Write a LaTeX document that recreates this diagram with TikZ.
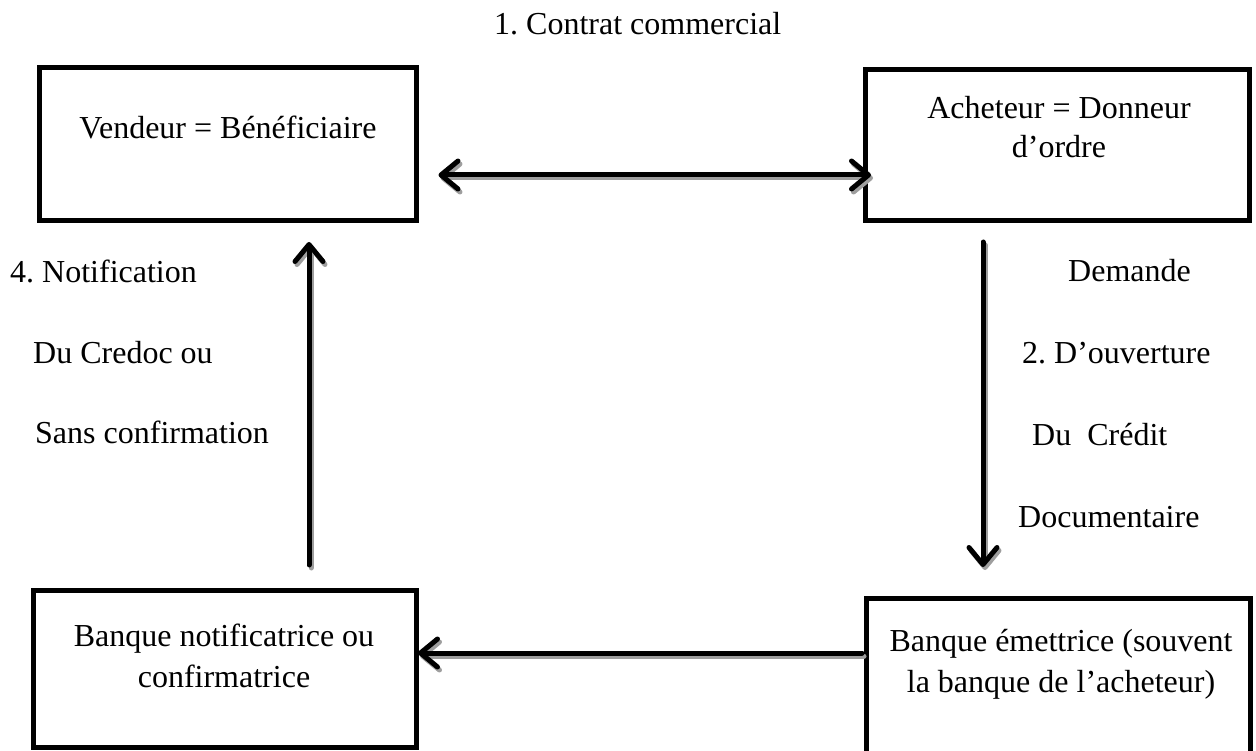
\documentclass[tikz,border=0pt]{standalone}
\usepackage{fontspec}
\setmainfont{Liberation Serif}
\usetikzlibrary{arrows.meta,calc}
\frenchspacing
\newcommand\shadowarrow[3]{%
  \draw[arrline,shadowcol,#1,transform canvas={shift={(2pt,-3pt)}}] #2 -- #3;
  \draw[arrline,#1] #2 -- #3;}
\begin{document}
\begin{tikzpicture}[x=1pt,y=-1pt,
  >={Straight Barb[length=17pt,width=28pt,line cap=round,line join=round]},
  box/.style={draw=black,line width=5pt,rectangle,inner sep=0pt},
  lbl/.style={inner sep=0pt,anchor=base,font=\fontsize{32}{39}\selectfont\frenchspacing},
  lblw/.style={inner sep=0pt,anchor=base west,font=\fontsize{32}{39}\selectfont\frenchspacing},
  arrline/.style={line width=5pt,line cap=round,draw=black},
  shadowcol/.style={draw=black!38}]
\useasboundingbox (0,0) rectangle (1256,751);
\clip (0,0) rectangle (1256,751);
% boxes
\node[box,minimum width=377pt,minimum height=153pt] (ven) at (227.5,144) {};
\node[box,minimum width=384pt,minimum height=151pt] (ach) at (1057.5,145) {};
\node[box,minimum width=383.5pt,minimum height=157pt] (notif) at (224.75,669) {};
\node[box,minimum width=384pt,minimum height=171.5pt] (emet) at (1058.5,684.25) {};
% box texts
\node[lbl] (venT) at (228,139) {Vendeur = Bénéficiaire};
\node[lbl] (achT1) at (1059,119) {Acheteur = Donneur};
\node[lbl] (achT2) at (1059,158) {d’ordre};
\node[lbl] (notT1) at (224,646) {Banque notificatrice ou};
\node[lbl] (notT2) at (224,687) {confirmatrice};
\node[lbl] (emeT1) at (1061,651) {Banque émettrice (souvent};
\node[lbl] (emeT2) at (1061,692) {la banque de l’acheteur)};
% free labels
\node[lblw] (l1) at (494,35) {1. Contrat commercial};
\node[lblw] (l4a) at (10,283) {4. Notification};
\node[lblw] (l4b) at (33,363) {Du Credoc ou};
\node[lblw] (l4c) at (35,443) {Sans confirmation};
\node[lblw] (l2a) at (1068,282) {Demande};
\node[lblw] (l2b) at (1022,363) {2. D’ouverture};
\node[lblw] (l2c) at (1032,445) {Du\ \ Crédit};
\node[lblw] (l2d) at (1018,527) {Documentaire};
% arrows
\shadowarrow{<->}{($(ven.east)+(20,31)$)}{($(ach.west)+(8,30)$)}
\shadowarrow{->}{($(ach.south)+(-74.5,19)$)}{($(emet.north)+(-75.5,-29)$)}
\shadowarrow{->}{($(notif.north)+(84.25,-23)$)}{($(ven.south)+(81.5,19)$)}
\shadowarrow{->}{($(emet.west)+(-2,-31.25)$)}{($(notif.east)+(-1,-16)$)}
\end{tikzpicture}
\end{document}
